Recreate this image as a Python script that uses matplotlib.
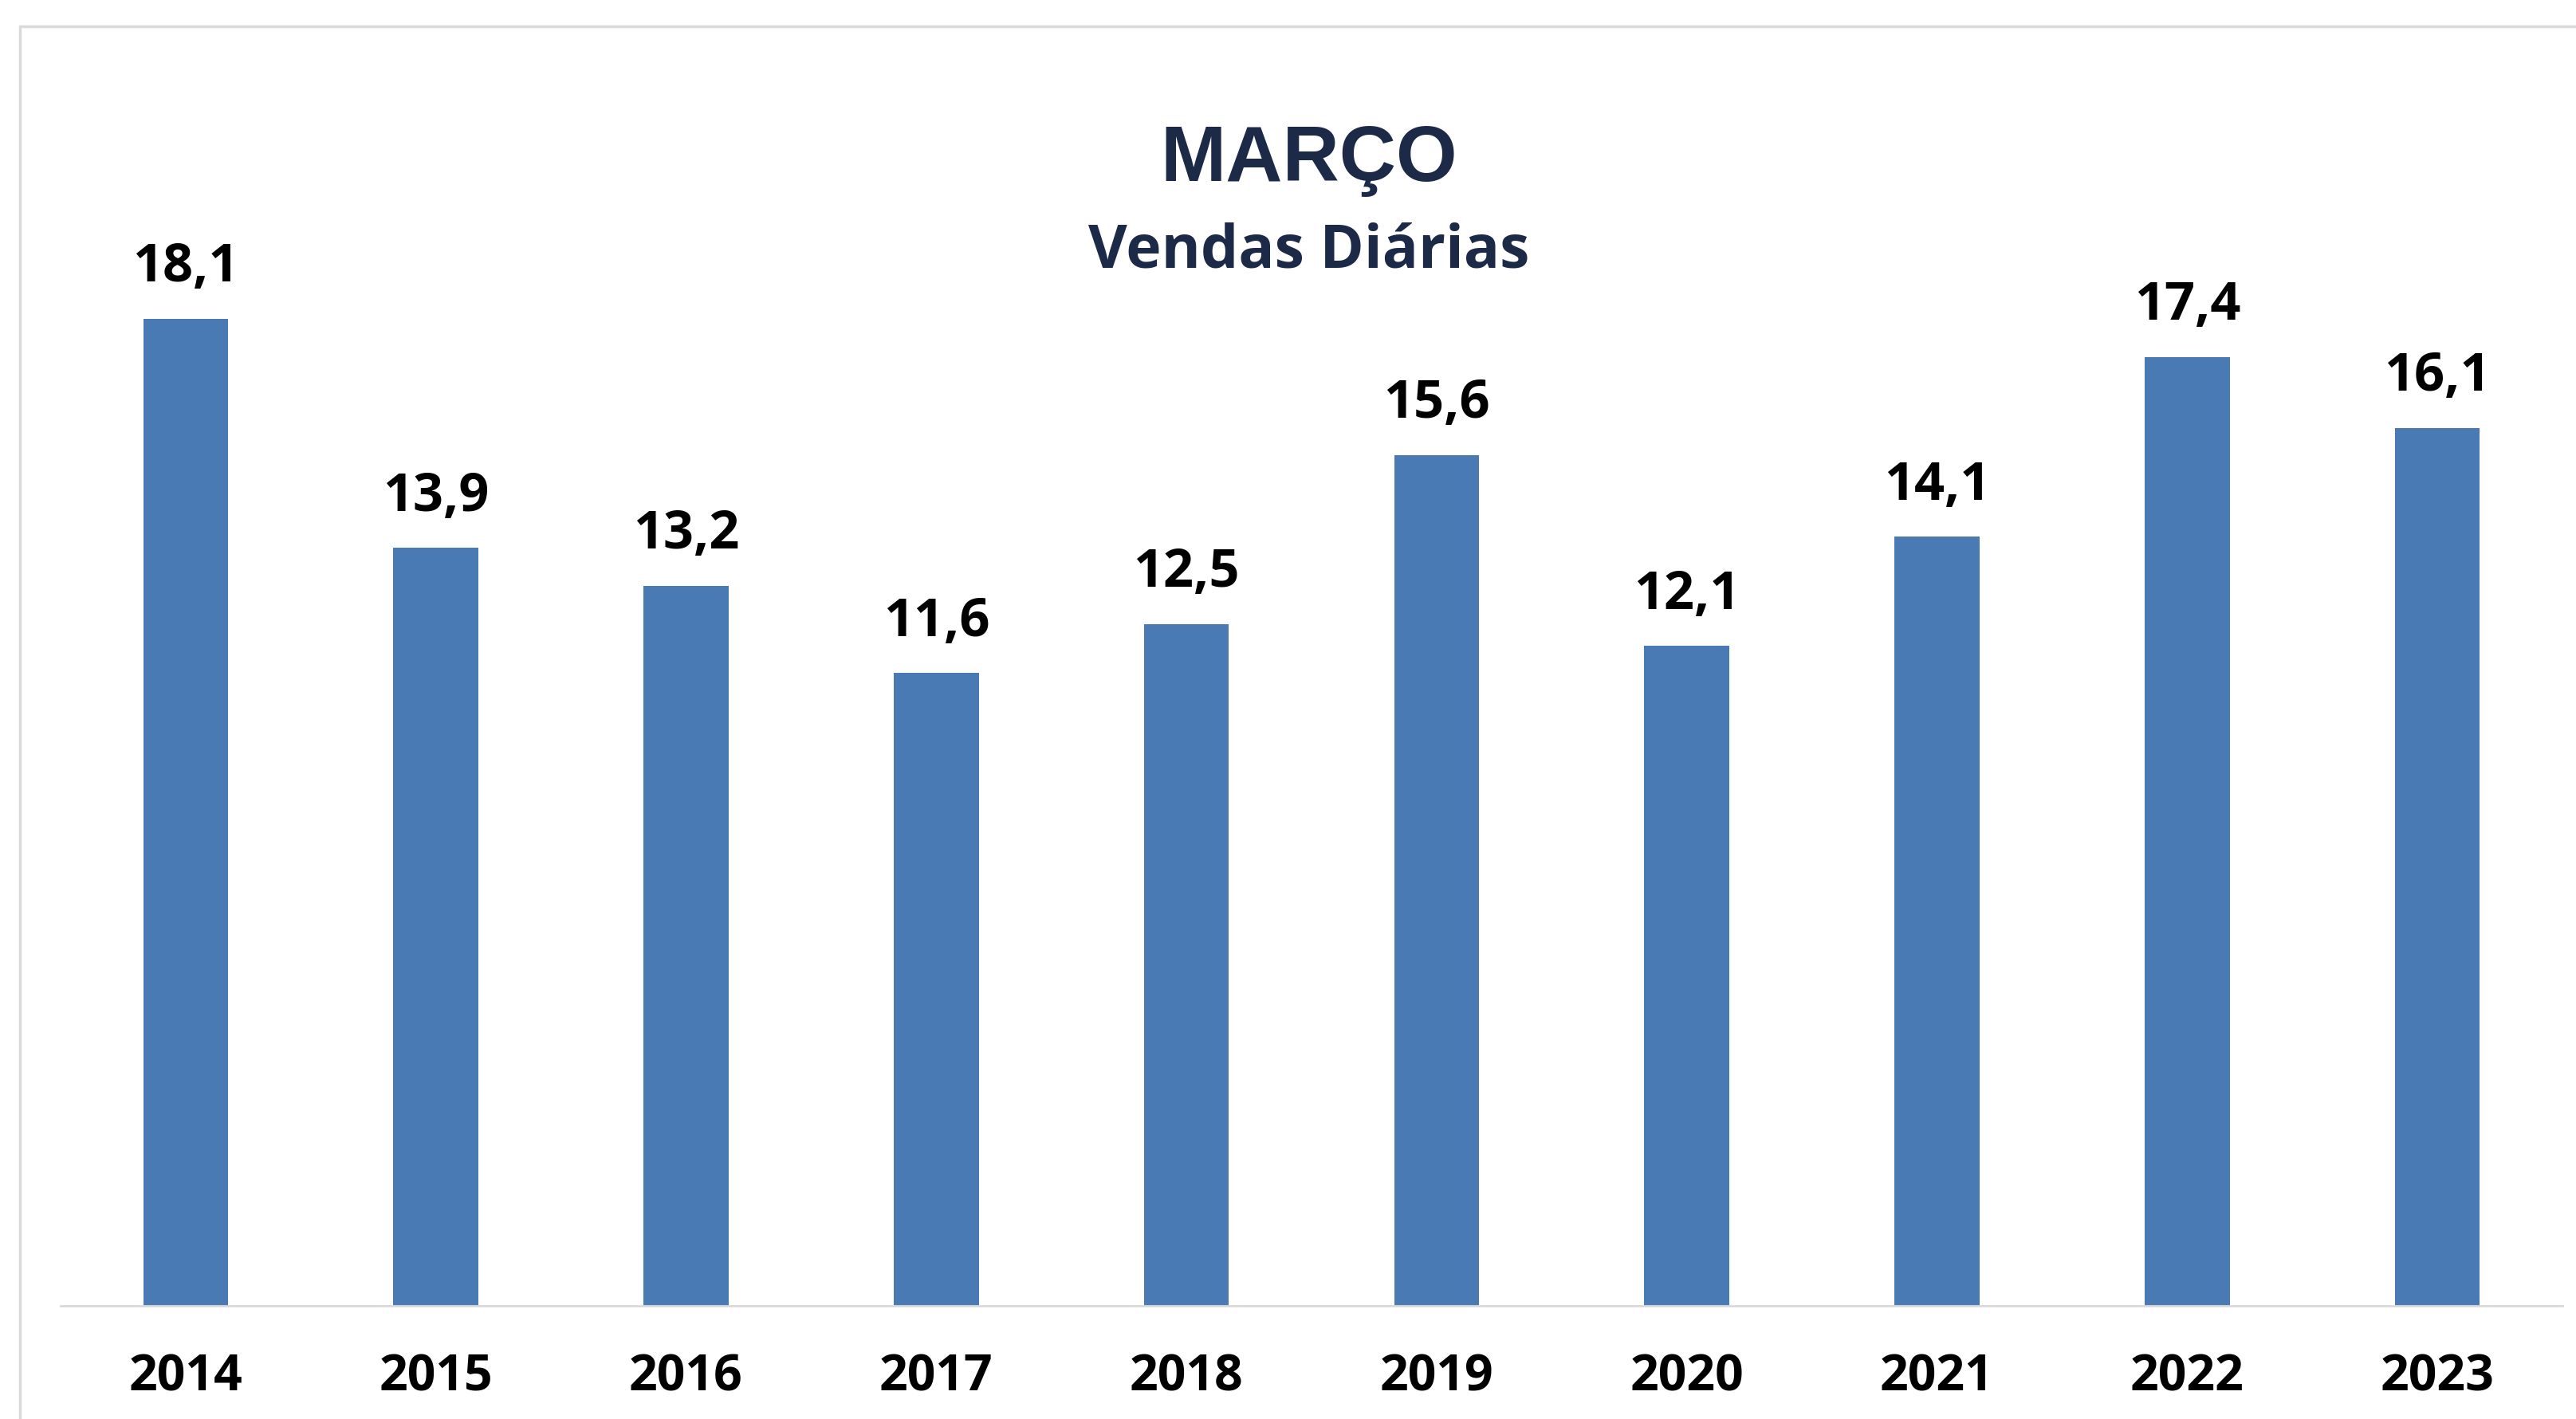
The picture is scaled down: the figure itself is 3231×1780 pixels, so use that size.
import matplotlib
matplotlib.use("Agg")
import matplotlib.pyplot as plt
from matplotlib.patches import Rectangle

years = ["2014", "2015", "2016", "2017", "2018", "2019", "2020", "2021", "2022", "2023"]
values = [18.1, 13.9, 13.2, 11.6, 12.5, 15.6, 12.1, 14.1, 17.4, 16.1]
title_main = "MARÇO"
title_sub = "Vendas Diárias"

W, H = 3231, 1780
fig = plt.figure(figsize=(W / 100, H / 100), dpi=100)
fig.patch.set_facecolor("white")

# outer chart border (cropped at right and bottom)
fig.patches.append(Rectangle((25 / W, -0.05), 1.2, 1 - 33 / H + 0.05,
                             transform=fig.transFigure, fill=False,
                             edgecolor="#d9d9d9", linewidth=2.5))

ax = fig.add_axes([76 / W, 1 - 1638 / H, (3214 - 76) / W, (1638 - 200) / H])
x = list(range(len(years)))
bars = ax.bar(x, values, width=0.34, color="#4a7ab4")
ax.set_xlim(-0.5, len(years) - 0.5)
ax.set_ylim(0, 21.02)

for s in ["left", "right", "top"]:
    ax.spines[s].set_visible(False)
ax.spines["bottom"].set_color("#d9d9d9")
ax.spines["bottom"].set_linewidth(2)
ax.set_yticks([])
ax.set_xticks(x)
ax.set_xticklabels(years, fontfamily="Open Sans", fontweight="bold", fontsize=45, color="black")
ax.tick_params(axis="x", length=0, pad=42)

for xi, v in zip(x, values):
    ax.annotate(f"{v:.1f}".replace(".", ","), (xi, v), xytext=(0, 22), textcoords="offset points",
                ha="center", va="bottom", fontfamily="Open Sans", fontweight="bold",
                fontsize=48, color="black")

fig.text(1642 / W, 1 - 227 / H, title_main, ha="center", va="baseline",
         fontfamily="Liberation Sans", fontweight="bold", fontsize=71, color="#1c2a48")
fig.text(1642 / W, 1 - 336 / H, title_sub, ha="center", va="baseline",
         fontfamily="Open Sans", fontweight="bold", fontsize=54, color="#1c2a48")

fig.savefig("out.png", dpi=100, facecolor="white")
